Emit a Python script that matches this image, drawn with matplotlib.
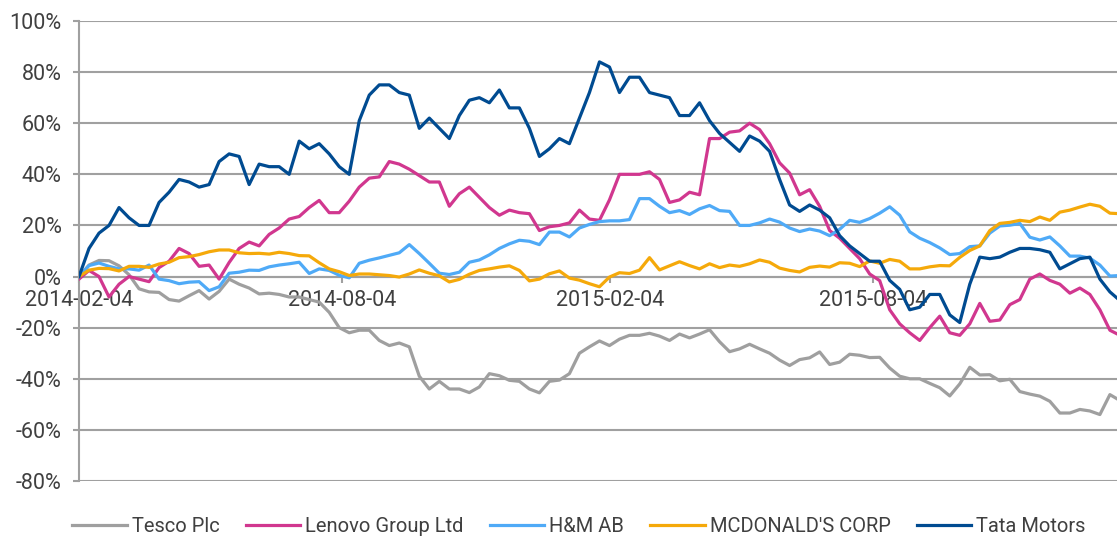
import matplotlib
matplotlib.use("Agg")
import matplotlib.pyplot as plt
import matplotlib.dates as mdates
from matplotlib.ticker import FuncFormatter, FixedLocator
import pandas as pd

plt.rcParams['font.family'] = ['Roboto', 'DejaVu Sans']

# ---------------- data (cumulative return, %) ----------------
dates = pd.date_range('2014-02-04', '2016-01-21', periods=105)

tesco = [0, 4.5, 6.3, 6.2, 4.2, 0.7, -4.8, -6, -6.2, -9, -9.6, -7.5, -5.5, -8.8, -5.8, -1,
         -3, -4.5, -6.8, -6.5, -7, -8, -8, -9, -10, -14, -20, -22, -21, -21, -25, -27,
         -26, -27.5, -39, -44, -41, -44, -44, -45.4, -43.2, -38, -38.8, -40.6, -41, -44,
         -45.5, -41, -40.5, -38, -30, -27.5, -25.2, -27, -24.5, -23, -23, -22.2, -23.3,
         -25, -22.5, -24, -22.5, -20.8, -25.5, -29.4, -28.3, -26.5, -28.3, -30, -32.7,
         -34.8, -32.5, -31.8, -29.5, -34.4, -33.5, -30.4, -30.8, -31.7, -31.6, -35.8,
         -39, -40, -40, -41.8, -43.5, -46.7, -42, -35.5, -38.5, -38.4, -40.8, -40.2, -45,
         -46, -46.8, -48.8, -53.4, -53.4, -52, -52.6, -54, -46.2, -48.5]

lenovo = [-1, 2.4, 0, -8, -3, 0, -1, -2, 3.5, 6, 11, 9, 4, 4.5, -1, 5.5, 11, 13.5, 12,
          16.5, 19, 22.5, 23.5, 27, 29.8, 25, 25, 29.5, 35, 38.5, 39, 45, 44, 42, 39.5,
          37, 37, 27.5, 32.4, 35, 31, 27, 24, 26, 25, 24.6, 18, 19.5, 20, 21, 26, 22.5,
          22, 30, 40, 40, 40, 41, 38, 29, 30, 33, 32, 54, 54, 56.5, 57, 60, 57.5, 52,
          44.5, 40.5, 32, 34, 27.5, 18, 15, 11, 7, 1, -1.6, -13, -18.5, -22, -25, -20,
          -15.5, -22, -23, -18.5, -10.5, -17.5, -17, -11, -9, -1, 1, -1.5, -3, -6.5,
          -4.5, -7, -13, -21, -23]

hm = [0, 4.3, 5.3, 4, 3, 3, 2.5, 4.5, -1, -1.6, -2.8, -2.2, -2, -5.5, -4, 1.3, 1.7,
      2.5, 2.4, 3.8, 4.5, 5, 5.6, 1.2, 3, 2.4, 0.5, -0.5, 5.2, 6.4, 7.3, 8.3, 9.3, 12.5,
      9, 5.2, 1.3, 0.8, 1.7, 5.6, 6.5, 8.5, 11, 12.8, 14.2, 13.8, 12.5, 17.4, 17.4,
      15.5, 19, 20.4, 21.5, 21.8, 21.8, 22.3, 30.5, 30.5, 27.5, 25, 25.8, 24.3, 26.5,
      27.8, 25.8, 25.5, 20, 20, 21, 22.5, 21.3, 19, 17.6, 18.6, 17.8, 16, 18.5, 22,
      21.2, 22.7, 24.8, 27.3, 24, 17.5, 15, 13.3, 11.2, 8.6, 9, 11.7, 12, 17, 19.8,
      20.1, 20.8, 15.4, 14.3, 15.5, 12, 8, 8, 7.2, 4.5, 0.2, 0.4]

mcd = [0, 2.5, 3.2, 3.1, 2.2, 4, 4, 3.6, 4.9, 5.6, 7.4, 7.8, 8.6, 9.7, 10.4, 10.4, 9.3,
       9, 9.1, 8.8, 9.5, 9, 8.2, 8.1, 5.4, 3, 1.9, 0.4, 1, 1, 0.7, 0.4, -0.2, 1, 2.6,
       1.3, 0.3, -2.1, -1.1, 0.9, 2.4, 3, 3.7, 4.2, 2.4, -1.7, -1, 1.1, 2.2, -0.6, -1.4,
       -2.8, -4, -0.2, 1.5, 1.2, 2.5, 7.4, 2.6, 4.2, 5.8, 4.3, 3, 5, 3.5, 4.5, 4, 5,
       6.5, 5.6, 3.3, 2.4, 1.8, 3.6, 4.1, 3.7, 5.4, 5.2, 3.9, 6.1, 5.2, 6.7, 6, 3, 3,
       3.8, 4.3, 4.2, 7.5, 10.2, 12, 18, 20.8, 21.2, 22, 21.5, 23.3, 22, 25.2, 26,
       27.2, 28.3, 27.5, 24.8, 24.6]

tata = [0, 11, 17, 20, 27, 23, 20, 20, 29, 33, 38, 37, 35, 36, 45, 48, 47, 36, 44, 43,
        43, 40, 53, 50, 52, 48, 43, 40, 61, 71, 75, 75, 72, 71, 58, 62, 58, 54, 63, 69,
        70, 68, 73, 66, 66, 58, 47, 50, 54, 52, 62, 72, 84, 82, 72, 78, 78, 72, 71, 70,
        63, 63, 68, 61, 56, 52.5, 49, 55, 53, 49, 38, 28, 25.5, 28, 26, 23, 16, 12, 9,
        6, 6, -1.5, -5, -13, -12, -7, -7, -15, -18, -3, 7.6, 7, 7.6, 9.5, 11, 11, 10.5,
        9.5, 3, 5, 7, 7.6, -1, -6, -9.4]

series_names = ['Tesco Plc', 'Lenovo Group Ltd', 'H&M AB', "MCDONALD'S CORP", 'Tata Motors']
series_values = [tesco, lenovo, hm, mcd, tata]
series_colors = ['#9f9f9f', '#d1378f', '#4faaf7', '#f5a90a', '#004b91']

tick_dates = ['2014-02-04', '2014-08-04', '2015-02-04', '2015-08-04']
y_ticks = [-80, -60, -40, -20, 0, 20, 40, 60, 80, 100]

# ---------------- figure ----------------
fig = plt.figure(figsize=(11.17, 5.40), dpi=100)
ax = fig.add_axes([79 / 1117, 1 - 481 / 540, 1 - 79 / 1117, (481 - 21) / 540])

text_color = '#404040'
grid_color = '#a0a0a0'

for name, vals, col in zip(series_names, series_values, series_colors):
    ax.plot(dates, vals, color=col, lw=2.3, label=name, zorder=3,
            solid_joinstyle='round')

ax.set_ylim(-80, 100)
ax.set_xlim(pd.Timestamp('2014-02-04'), pd.Timestamp('2016-01-19'))
ax.yaxis.set_major_locator(FixedLocator(y_ticks))
ax.yaxis.set_major_formatter(FuncFormatter(lambda v, p: f'{v:.0f}%'))
ax.xaxis.set_major_locator(FixedLocator([mdates.date2num(pd.Timestamp(d)) for d in tick_dates]))
ax.xaxis.set_major_formatter(mdates.DateFormatter('%Y-%m-%d'))

ax.grid(axis='y', color=grid_color, lw=1.5, zorder=1)
ax.set_axisbelow(True)

for s in ['top', 'right']:
    ax.spines[s].set_visible(False)
ax.spines['bottom'].set_position(('data', 0))
ax.spines['bottom'].set_color(grid_color)
ax.spines['bottom'].set_linewidth(1.5)
ax.spines['left'].set_color(grid_color)
ax.spines['left'].set_linewidth(1.5)

ax.tick_params(axis='y', colors=grid_color, labelcolor=text_color, labelsize=15.5,
               length=4.5, width=1.5, pad=8)
ax.tick_params(axis='x', colors=grid_color, labelcolor=text_color, labelsize=15.5,
               length=4, width=1.5, pad=6)

fig.legend(loc='center', bbox_to_anchor=(579 / 1117, 1 - 527 / 540), ncol=5,
           frameon=False, fontsize=14.5, handlelength=2.7, handletextpad=0.25,
           columnspacing=1.3, labelcolor=text_color)

fig.savefig('out.png', dpi=100)
